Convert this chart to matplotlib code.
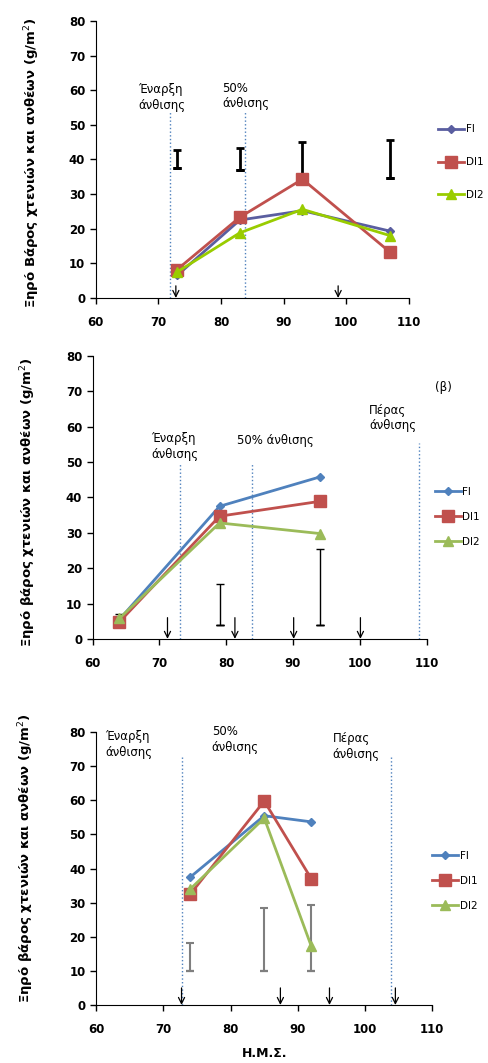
import matplotlib
matplotlib.use("Agg")
import matplotlib.pyplot as plt

plt.rcParams['font.family'] = ['DejaVu Sans']

# ---- panel (a) ----
x_a = [73, 83, 93, 107]
fi_a = [6.5, 22.5, 25.2, 19.3]
di1_a = [8.2, 23.3, 34.3, 13.2]
di2_a = [7.5, 18.8, 25.6, 18.0]
err_lo_a = [37.5, 37.0, 34.5, 34.5]
err_hi_a = [42.8, 43.2, 45.0, 45.5]
vlines_a = [71.8, 83.9]
vtop_a = [54, 54]
arrows_a = [72.8, 98.7]

# ---- panel (b) ----
x_b = [64, 79, 94]
fi_b = [5.5, 37.5, 45.8]
di1_b = [4.8, 34.7, 38.9]
di2_b = [5.8, 32.8, 29.8]
err_lo_b = [4.0, 4.0, 4.0]
err_hi_b = [7.0, 15.5, 25.3]
vlines_b = [73.1, 83.8, 108.8]
vtop_b = [49.5, 49.5, 55.5]
arrows_b = [71.2, 81.3, 90.1, 100.1]

# ---- panel (c) ----
x_c = [74, 85, 92]
fi_c = [37.5, 55.5, 53.7]
di1_c = [32.5, 59.8, 37.0]
di2_c = [34.0, 54.8, 17.2]
err_lo_c = [10.0, 10.0, 10.0]
err_hi_c = [18.3, 28.3, 29.3]
vlines_c = [72.7, 103.9]
vtop_c = [73.3, 73.3]
arrows_c = [72.7, 87.4, 94.7, 104.5]

labels = ['FI', 'DI1', 'DI2']
ylab_a = 'Ξηρό Βάρος χτενιών και ανθέων (g/m$^2$)'
ylab_bc = 'Ξηρό βάρος χτενιών και ανθέων (g/m$^2$)'

fig = plt.figure(figsize=(4.88, 10.63), dpi=100)

axes_pos = [(0.196, 0.7197, 0.642, 0.2606),
            (0.190, 0.399, 0.684, 0.266),
            (0.197, 0.0546, 0.689, 0.2566)]


def setup(ax):
    for s in ['top', 'right']:
        ax.spines[s].set_visible(False)
    ax.set_xlim(60, 110)
    ax.set_ylim(0, 80)
    ax.set_xticks(range(60, 111, 10))
    ax.set_yticks(range(0, 81, 10))
    ax.tick_params(axis='both', direction='out', length=4, width=1, labelsize=8.5)
    ax.tick_params(axis='x', pad=9)
    for t in ax.get_xticklabels() + ax.get_yticklabels():
        t.set_fontweight('bold')


def draw_series(ax, x, fi, di1, di2, cols):
    ax.plot(x, fi, color=cols[0], marker='D', ms=4.5, lw=2, label=labels[0], zorder=3)
    ax.plot(x, di1, color=cols[1], marker='s', ms=8, lw=2, label=labels[1], zorder=3)
    ax.plot(x, di2, color=cols[2], marker='^', ms=7, lw=2, label=labels[2], zorder=4)


def draw_err(ax, x, lo, hi, color, lw, cap):
    ax.errorbar(x, lo, yerr=[[0] * len(lo), [h - l for h, l in zip(hi, lo)]],
                fmt='none', ecolor=color, elinewidth=lw, capsize=cap, capthick=lw,
                zorder=2)
    ax.errorbar(x, lo, yerr=[[0] * len(lo), [0] * len(lo)], fmt='none',
                ecolor=color, elinewidth=lw, capsize=cap, capthick=lw, zorder=2)


def draw_vlines(ax, xs, tops):
    for xv, tp in zip(xs, tops):
        ax.plot([xv, xv], [0, tp], color='#4F81BD', ls=':', lw=1, zorder=1)


def draw_arrows(ax, xs, top):
    for xv in xs:
        ax.annotate('', xy=(xv, 0), xytext=(xv, top),
                    arrowprops=dict(arrowstyle='->', color='black', lw=0.9,
                                    mutation_scale=11, shrinkA=0, shrinkB=0),
                    annotation_clip=False)


def legend(ax, x, y, spacing):
    ax.legend(loc='center left', bbox_to_anchor=(x, y), frameon=False,
              fontsize=7.5, labelspacing=spacing, handlelength=2.5,
              handletextpad=0.15, borderaxespad=0, borderpad=0)


txt = dict(fontsize=8.5, va='top', ha='left', linespacing=1.25)

# panel (a)
ax1 = fig.add_axes(axes_pos[0])
setup(ax1)
draw_vlines(ax1, vlines_a, vtop_a)
draw_err(ax1, x_a, err_lo_a, err_hi_a, 'black', 2, 3)
draw_series(ax1, x_a, fi_a, di1_a, di2_a, ['#5A5EA0', '#C0504D', '#99CC00'])
draw_arrows(ax1, arrows_a, 3.5)
ax1.text(66.8, 62, 'Έναρξη\nάνθισης', **txt)
ax1.text(80.2, 62.5, '50%\nάνθισης', **txt)
ax1.set_ylabel(ylab_a, fontsize=9.5, fontweight='bold')
ax1.yaxis.set_label_coords(-0.17, 0.49)
legend(ax1, 1.093, 0.49, 2.2)

# panel (b)
ax2 = fig.add_axes(axes_pos[1])
setup(ax2)
draw_vlines(ax2, vlines_b, vtop_b)
draw_err(ax2, x_b, err_lo_b, err_hi_b, 'black', 1, 3)
draw_series(ax2, x_b, fi_b, di1_b, di2_b, ['#4F81BD', '#C0504D', '#9BBB59'])
draw_arrows(ax2, arrows_b, 6)
ax2.text(68.8, 58.5, 'Έναρξη\nάνθισης', **txt)
ax2.text(81.6, 58.0, '50% άνθισης', **txt)
ax2.text(101.4, 66.5, 'Πέρας\nάνθισης', **txt)
ax2.text(111.2, 71, '(β)', fontsize=8.5, va='center', ha='left')
ax2.set_ylabel(ylab_bc, fontsize=9.5, fontweight='bold')
ax2.yaxis.set_label_coords(-0.165, 0.485)
legend(ax2, 1.025, 0.432, 1.45)

# panel (c)
ax3 = fig.add_axes(axes_pos[2])
setup(ax3)
draw_vlines(ax3, vlines_c, vtop_c)
draw_err(ax3, x_c, err_lo_c, err_hi_c, '#7F7F7F', 1.5, 3)
draw_series(ax3, x_c, fi_c, di1_c, di2_c, ['#4F81BD', '#C0504D', '#9BBB59'])
draw_arrows(ax3, arrows_c, 5)
ax3.text(61.3, 80.5, 'Έναρξη\nάνθισης', **txt)
ax3.text(77.2, 82, '50%\nάνθισης', **txt)
ax3.text(95.2, 80, 'Πέρας\nάνθισης', **txt)
ax3.set_ylabel(ylab_bc, fontsize=9.5, fontweight='bold')
ax3.yaxis.set_label_coords(-0.18, 0.54)
ax3.set_xlabel('Η.Μ.Σ.', fontsize=9, fontweight='bold', labelpad=8)
legend(ax3, 1.0, 0.455, 1.45)

fig.savefig('out.png', dpi=100)
